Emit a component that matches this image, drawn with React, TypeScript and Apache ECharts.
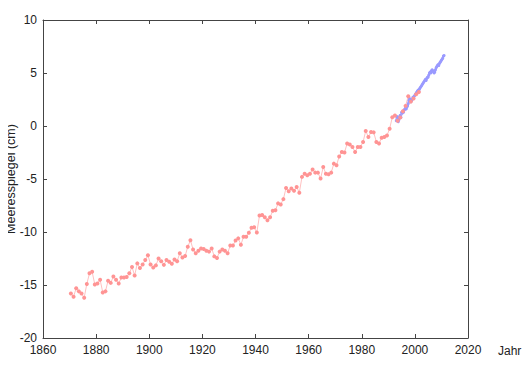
import React, { useEffect, useRef } from "react";
import * as echarts from "echarts";

// Tide-gauge record (annual, mid-year), cm
const gaugeStartYear = 1870.5;
const gaugeValues = [
  -15.8, -16.1, -15.3, -15.6, -15.8, -16.2, -14.9, -13.9, -13.75, -14.95,
  -14.85, -14.5, -15.7, -15.6, -14.6, -14.8, -14.2, -14.5, -14.85, -14.3,
  -14.3, -14.25, -13.9, -13.3, -14.1, -12.96, -13.4, -13.06, -12.65, -12.2,
  -13.06, -13.35, -13.15, -12.5, -12.75, -13.1, -12.65, -12.8, -13.0, -12.6,
  -12.75, -12.0, -12.4, -12.27, -11.4, -10.77, -11.65, -12.0, -11.77, -11.55,
  -11.6, -11.77, -11.85, -11.55, -12.3, -12.45, -11.85, -11.65, -11.77, -12.0,
  -11.27, -11.27, -10.8, -10.6, -11.2, -10.45, -10.45, -10.08, -9.6, -9.55,
  -10.05, -8.45, -8.4, -8.6, -8.9, -8.6, -8.0, -7.95, -7.3, -7.4,
  -6.9, -5.84, -6.15, -5.9, -6.1, -5.75, -6.3, -4.8, -4.5, -4.65,
  -4.5, -4.1, -4.4, -4.4, -4.96, -3.87, -4.5, -4.55, -4.4, -3.55,
  -3.7, -2.88, -2.45, -2.5, -1.66, -1.75, -1.98, -2.45, -1.98, -1.98,
  -1.5, -0.47, -1.04, -0.57, -0.6, -1.5, -1.66, -1.1, -1.04, -0.9,
  -0.25, 0.82, 1.0, 0.5, 0.8, 1.4, 1.9, 2.8, 2.3, 2.6,
  3.0, 3.2,
];

// Satellite altimetry (quarterly), cm
const satYears = [
  1993.0, 1993.25, 1993.5, 1993.75, 1994.0, 1994.25, 1994.5, 1994.75,
  1995.0, 1995.25, 1995.5, 1995.75, 1996.0, 1996.25, 1996.5, 1996.75,
  1997.0, 1997.25, 1997.5, 1997.75, 1998.0, 1998.25, 1998.5, 1998.75,
  1999.0, 1999.25, 1999.5, 1999.75, 2000.0, 2000.25, 2000.5, 2000.75,
  2001.0, 2001.25, 2001.5, 2001.75, 2002.0, 2002.25, 2002.5, 2002.75,
  2003.0, 2003.25, 2003.5, 2003.75, 2004.0, 2004.25, 2004.5, 2004.75,
  2005.0, 2005.25, 2005.5, 2005.75, 2006.0, 2006.25, 2006.5, 2006.75,
  2007.0, 2007.25, 2007.5, 2007.75, 2008.0, 2008.25, 2008.5, 2008.75,
  2009.0, 2009.25, 2009.5, 2009.75, 2010.0, 2010.25, 2010.5, 2010.75,
  2011.0,
];
const satValues = [
  0.5, 0.9, 0.7, 0.4, 0.6, 0.9, 1.0, 0.8,
  1.3, 1.2, 1.4, 1.3, 1.5, 1.6, 1.7, 1.6,
  1.8, 1.9, 2.1, 2.4, 2.6, 2.5, 2.3, 2.4,
  2.5, 2.7, 2.6, 2.8, 2.9, 3.0, 3.1, 3.2,
  3.3, 3.4, 3.3, 3.5, 3.6, 3.7, 3.8, 3.9,
  4.0, 4.1, 4.2, 4.3, 4.4, 4.3, 4.5, 4.6,
  4.6, 4.8, 5.0, 5.1, 5.0, 5.2, 5.3, 5.2,
  5.1, 5.0, 5.1, 5.3, 5.5, 5.6, 5.7, 5.8,
  5.7, 5.9, 6.0, 6.1, 6.2, 6.3, 6.4, 6.6,
  6.65,
];

const xMin = 1860;
const xMax = 2020;
const xStep = 20;
const yMin = -20;
const yMax = 10;
const yStep = 5;

const FONT = "'Liberation Sans', Arial, sans-serif";

export default function App() {
  const ref = useRef<HTMLDivElement>(null);

  useEffect(() => {
    if (!ref.current) return;
    const chart = echarts.init(ref.current, null, { renderer: "svg" });
    const gaugeData = gaugeValues.map((v, i) => [gaugeStartYear + i, v]);
    const satData = satYears.map((y, i) => [y, satValues[i]]);
    const axisLine = { show: true, onZero: false, lineStyle: { color: "#444", width: 1 } };
    const tick = { show: true, inside: true, length: 4, lineStyle: { color: "#444" } };
    const plain = (v: number) => String(v);
    chart.setOption({
      animation: false,
      backgroundColor: "#fff",
      grid: {
        left: 43,
        right: 62,
        top: 20,
        bottom: 37,
        containLabel: false,
        outerBoundsMode: "none",
      },
      xAxis: [
        {
          type: "value",
          min: xMin,
          max: xMax,
          interval: xStep,
          position: "bottom",
          name: "Jahr",
          nameLocation: "end",
          nameGap: 30,
          nameMoveOverlap: false,
          nameTextStyle: {
            color: "#222",
            fontFamily: FONT,
            fontSize: 12,
            align: "left",
            verticalAlign: "top",
            padding: [7, 0, 0, 0],
          },
          axisLine,
          axisTick: tick,
          splitLine: { show: false },
          axisLabel: { color: "#222", fontFamily: FONT, fontSize: 12, margin: 6, formatter: plain },
        },
        {
          type: "value",
          min: xMin,
          max: xMax,
          interval: xStep,
          position: "top",
          axisLine,
          axisTick: tick,
          splitLine: { show: false },
          axisLabel: { show: false },
        },
      ],
      yAxis: [
        {
          type: "value",
          min: yMin,
          max: yMax,
          interval: yStep,
          position: "left",
          name: "Meeresspiegel (cm)",
          nameLocation: "middle",
          nameRotate: 90,
          nameGap: 26,
          nameMoveOverlap: false,
          nameTextStyle: { color: "#222", fontFamily: FONT, fontSize: 12.5 },
          axisLine,
          axisTick: tick,
          splitLine: { show: false },
          axisLabel: { color: "#222", fontFamily: FONT, fontSize: 12, margin: 6, formatter: plain },
        },
        {
          type: "value",
          min: yMin,
          max: yMax,
          interval: yStep,
          position: "right",
          axisLine,
          axisTick: tick,
          splitLine: { show: false },
          axisLabel: { show: false },
        },
      ],
      series: [
        {
          name: "Satellit",
          type: "line",
          data: satData,
          symbol: "circle",
          symbolSize: 3,
          showSymbol: true,
          itemStyle: { color: "#9a9aff" },
          lineStyle: { color: "#9a9aff", width: 2 },
        },
        {
          name: "Pegel",
          type: "line",
          data: gaugeData,
          symbol: "circle",
          symbolSize: 4,
          showSymbol: true,
          itemStyle: { color: "#ff9494" },
          lineStyle: { color: "#ffc0c0", width: 1 },
        },
      ],
    });
    return () => chart.dispose();
  }, []);

  return <div ref={ref} style={{ width: 530, height: 375, margin: -8 }} />;
}
